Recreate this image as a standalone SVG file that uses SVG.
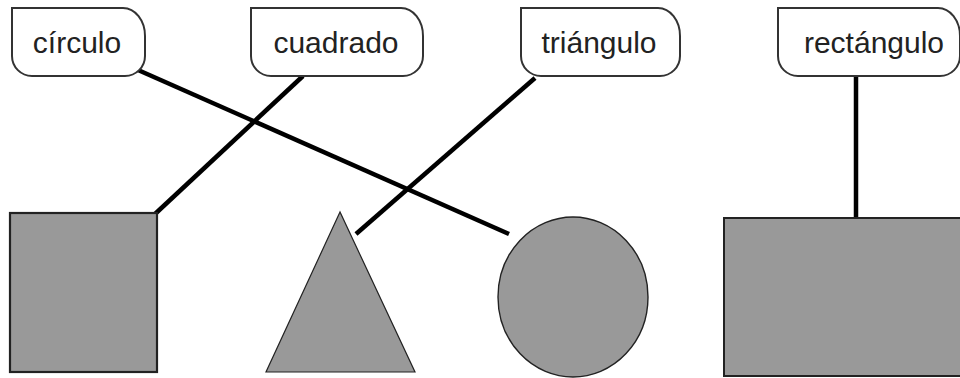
<svg xmlns="http://www.w3.org/2000/svg" width="960" height="378" viewBox="0 0 960 378">
<style>
.lbl{fill:#fff;stroke:#333;stroke-width:2}
.txt{font-family:"Liberation Sans",Arial,sans-serif;font-size:30px;fill:#222;text-anchor:middle}
.shape{fill:#999;stroke:#222}
.conn{stroke:#000;stroke-width:4.5;fill:none}
</style>
<rect width="960" height="378" fill="#fff"/>
<g id="connectors">
<line class="conn" x1="138" y1="70" x2="509" y2="234"/>
<line class="conn" x1="303" y1="76" x2="155" y2="214"/>
<line class="conn" x1="535" y1="78" x2="356" y2="234"/>
<line class="conn" x1="856" y1="76" x2="856" y2="222"/>
</g>
<g id="label-circulo">
<path class="lbl" d="M12,8 H123 A22,28 0 0 1 145,36 V56 A20,20 0 0 1 125,76 H32 A20,20 0 0 1 12,56 Z"/>
<text class="txt" x="77" y="53">círculo</text>
</g>
<g id="label-cuadrado">
<path class="lbl" d="M251,8 H401 A22,28 0 0 1 423,36 V56 A20,20 0 0 1 403,76 H271 A20,20 0 0 1 251,56 Z"/>
<text class="txt" x="336" y="53">cuadrado</text>
</g>
<g id="label-triangulo">
<path class="lbl" d="M521,8 H658 A22,28 0 0 1 680,36 V56 A20,20 0 0 1 660,76 H541 A20,20 0 0 1 521,56 Z"/>
<text class="txt" x="599" y="53">triángulo</text>
</g>
<g id="label-rectangulo">
<path class="lbl" d="M778,8 H938 A22,28 0 0 1 960,36 V56 A20,20 0 0 1 940,76 H798 A20,20 0 0 1 778,56 Z"/>
<text class="txt" x="874" y="53">rectángulo</text>
</g>
<g id="square">
<rect class="shape" x="10" y="213" width="147" height="159" stroke-width="2.2"/>
</g>
<g id="triangle">
<polygon class="shape" points="340,212 266,372 415,372" stroke-width="1.2"/>
</g>
<g id="circle">
<ellipse class="shape" cx="573" cy="297" rx="75" ry="80" stroke-width="1.4"/>
</g>
<g id="rectangle">
<rect class="shape" x="724" y="218" width="250" height="158" stroke-width="2"/>
</g>
</svg>
